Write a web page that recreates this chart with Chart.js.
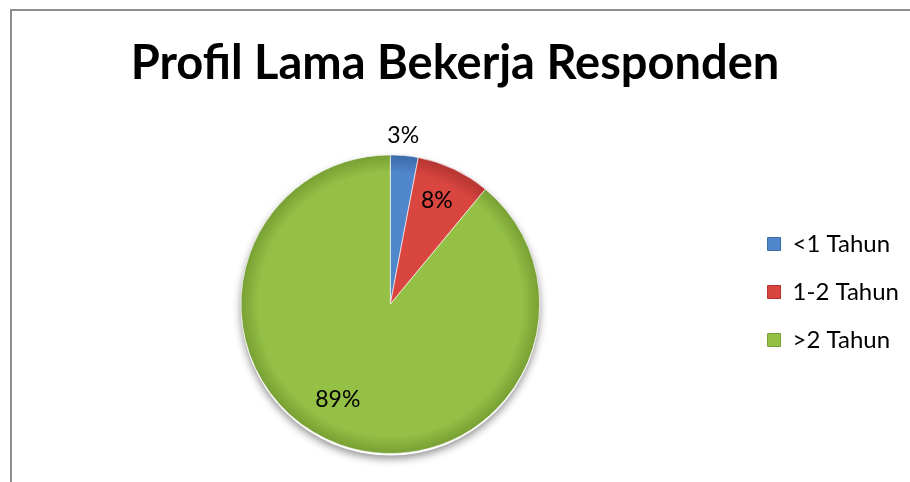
<!DOCTYPE html>
<html>
<head>
<meta charset="utf-8">
<title>Profil Lama Bekerja Responden</title>
<script src="https://cdn.jsdelivr.net/npm/chart.js@4.4.1/dist/chart.umd.min.js"></script>
<style>
    html, body { margin: 0; padding: 0; background: #fff; overflow: hidden; }
    .wrap { position: relative; width: 910px; height: 482px; }
    .frame {
        position: absolute; left: 10px; top: 9px; width: 940px; height: 520px;
        border-left: 2px solid #8e8e8e; border-top: 2px solid #8e8e8e;
    }
    #chart { position: absolute; left: 0; top: 0; }
</style>
</head>
<body>
<div class="wrap">
    <div class="frame"></div>
    <canvas id="chart" width="910" height="482"></canvas>
</div>
<script>
// --- data ---
const categories = ['<1 Tahun', '1-2 Tahun', '>2 Tahun'];
const shares = [3, 8, 89];
const sliceLabels = ['3%', '8%', '89%'];

// --- look ---
const FONT = "Lato, 'Open Sans', sans-serif";
const baseColors = ['#4f86cc', '#d9453f', '#93c045'];
const edgeColors = ['#3b6aa8', '#b33431', '#779e33'];
// where each percentage sits: [fraction of radius, extra angle in degrees]
const labelPlace = [[1.13, -1], [0.76, -1], [0.73, 9]];
// legend box edges (items are centred inside)
const LEGEND_TOP = 196;
const LEGEND_BOTTOM = 388;

function sliceFill(ctx) {
    const i = ctx.dataIndex;
    const area = ctx.chart.chartArea;
    if (!area) return baseColors[i];
    const cx = (area.left + area.right) / 2;
    const cy = (area.top + area.bottom) / 2;
    const r = Math.min(area.right - area.left, area.bottom - area.top) / 2;
    const g = ctx.chart.ctx.createRadialGradient(cx, cy, 0, cx, cy, r);
    g.addColorStop(0, baseColors[i]);
    g.addColorStop(0.88, baseColors[i]);
    g.addColorStop(1, edgeColors[i]);
    return g;
}

// soft shadow under the pie
const pieShadow = {
    id: 'pieShadow',
    beforeDatasetsDraw(chart) {
        const arc = chart.getDatasetMeta(0).data[0];
        if (!arc) return;
        const c = chart.ctx;
        c.save();
        c.beginPath();
        c.arc(arc.x, arc.y + 2, arc.outerRadius, 0, Math.PI * 2);
        c.shadowColor = 'rgba(0,0,0,0.45)';
        c.shadowBlur = 8;
        c.shadowOffsetY = 3;
        c.fillStyle = '#ffffff';
        c.fill();
        c.restore();
    }
};

// percentage labels on/near the slices
const sliceText = {
    id: 'sliceText',
    afterDatasetsDraw(chart) {
        const c = chart.ctx;
        const meta = chart.getDatasetMeta(0);
        c.save();
        c.font = '23px ' + FONT;
        c.fillStyle = '#000';
        c.textAlign = 'center';
        c.textBaseline = 'middle';
        meta.data.forEach(function (arc, i) {
            const mid = (arc.startAngle + arc.endAngle) / 2 + labelPlace[i][1] * Math.PI / 180;
            const r = arc.outerRadius * labelPlace[i][0];
            c.fillText(sliceLabels[i], arc.x + Math.cos(mid) * r, arc.y + Math.sin(mid) * r);
        });
        c.restore();
    }
};

// title centred on the whole canvas, legend block beside the pie
const blockPlace = {
    id: 'blockPlace',
    afterLayout(chart) {
        if (chart.titleBlock) {
            chart.titleBlock.left = 0;
            chart.titleBlock.right = chart.width;
        }
        const lg = chart.legend;
        if (lg) {
            lg.top = LEGEND_TOP;
            lg.bottom = LEGEND_BOTTOM;
        }
    }
};

new Chart(document.getElementById('chart').getContext('2d'), {
    type: 'pie',
    data: {
        labels: categories,
        datasets: [{
            data: shares,
            backgroundColor: sliceFill,
            borderColor: 'rgba(255,255,255,0.6)',
            borderWidth: 1
        }]
    },
    options: {
        responsive: false,
        animation: false,
        layout: { padding: { left: 37, right: 1, top: 0, bottom: 28 } },
        plugins: {
            title: {
                display: true,
                text: 'Profil Lama Bekerja Responden',
                color: '#000',
                font: { family: FONT, size: 47, weight: 'bold', lineHeight: 1.2 },
                padding: { top: 36, bottom: 62 }
            },
            legend: {
                display: true,
                position: 'right',
                labels: {
                    color: '#000',
                    font: { family: FONT, size: 24 },
                    boxWidth: 13,
                    boxHeight: 13,
                    padding: 24,
                    generateLabels(chart) {
                        return categories.map(function (name, i) {
                            return {
                                text: name,
                                fillStyle: baseColors[i],
                                strokeStyle: edgeColors[i],
                                lineWidth: 1,
                                index: i,
                                fontColor: '#000'
                            };
                        });
                    }
                }
            },
            tooltip: { enabled: false }
        }
    },
    plugins: [pieShadow, sliceText, blockPlace]
});
</script>
</body>
</html>
